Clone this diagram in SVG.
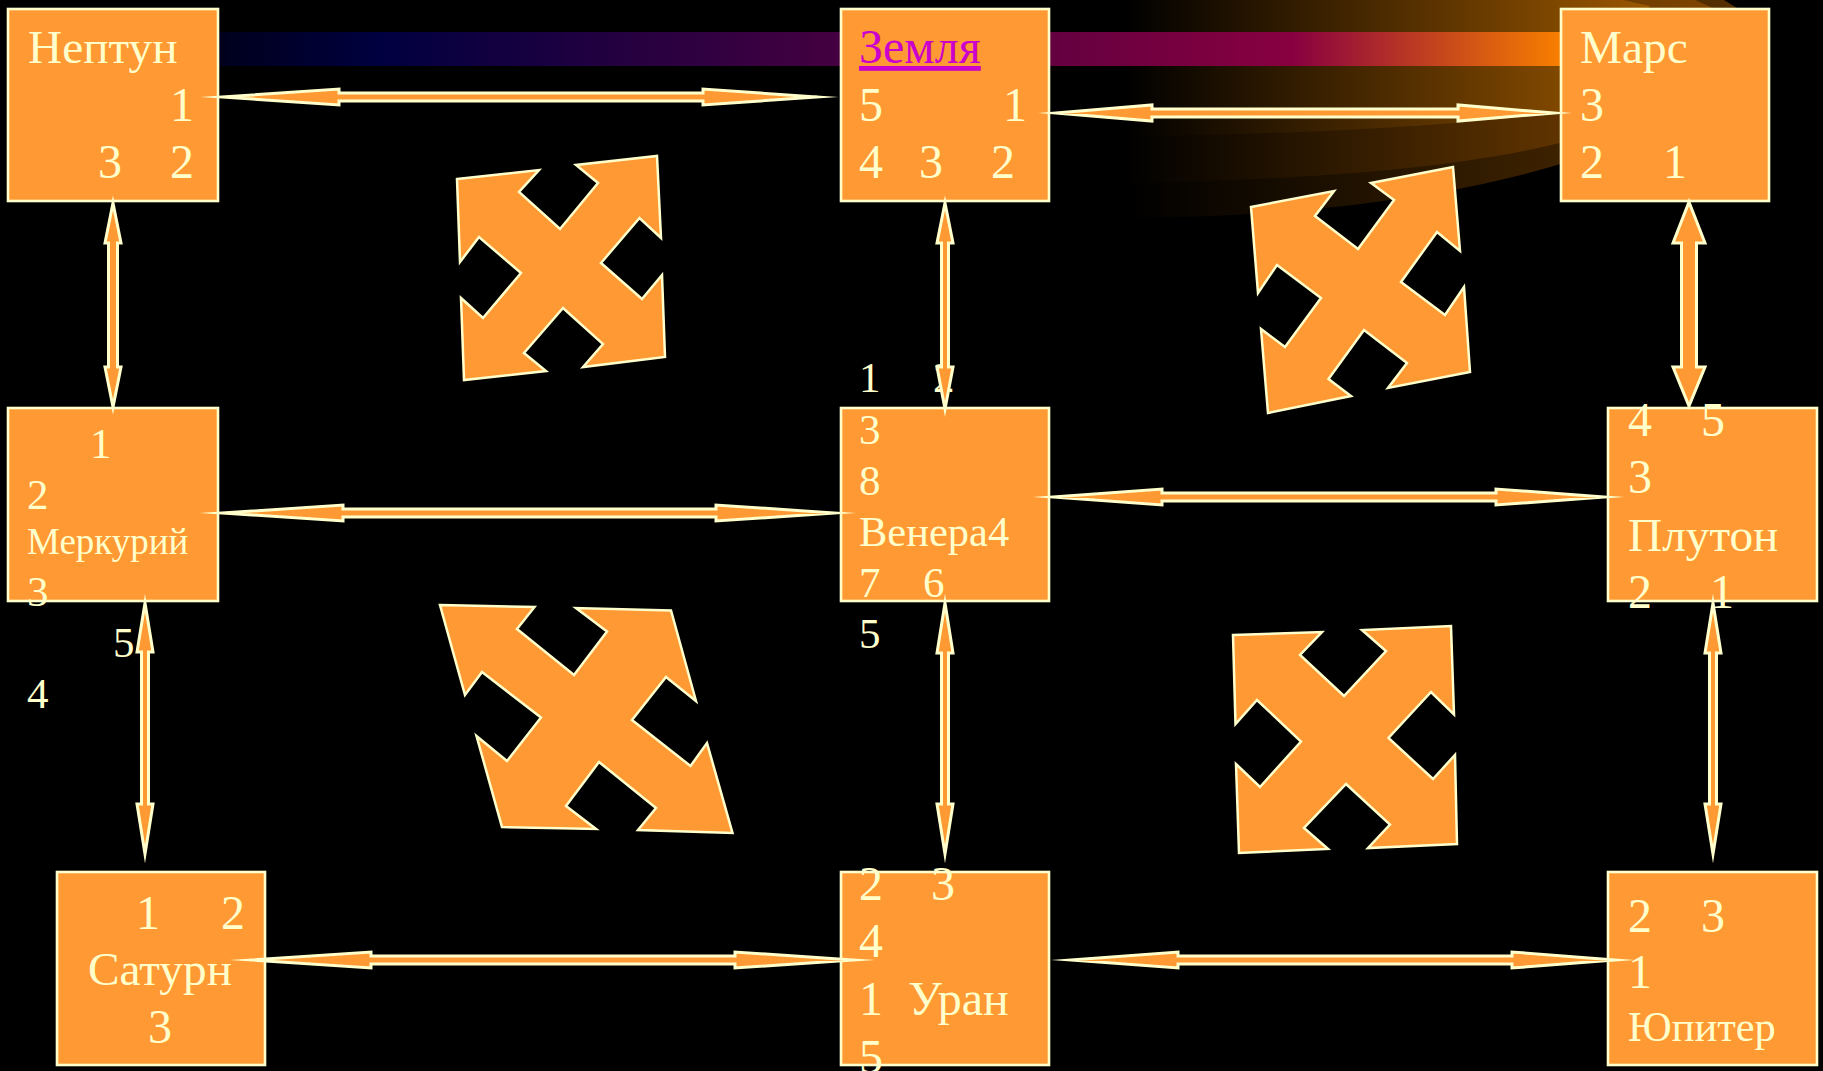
<svg xmlns="http://www.w3.org/2000/svg" width="1823" height="1071" viewBox="0 0 1823 1071">
<style>
.box{fill:#FF9933;stroke:#FFFFCC;stroke-width:2.6}
.arr{fill:#FF9933;stroke:#FFFFCC;stroke-width:3;stroke-miterlimit:40}
.cross{fill:#FF9933;stroke:#FFFFCC;stroke-width:2.5;stroke-miterlimit:10}
text{font-family:"Liberation Serif","Times New Roman",serif;fill:#FFFFCC;font-size:48px}
.n{font-size:47.3px}
.m{font-size:43px}
.mn{font-size:42.5px}
.s{font-size:37px}
.link{fill:#CC00CC;text-decoration:underline}
</style>
<defs>
<linearGradient id="band" gradientUnits="userSpaceOnUse" x1="218" y1="0" x2="1561" y2="0">
<stop offset="0" stop-color="#00001c"/><stop offset="0.12" stop-color="#000040"/><stop offset="0.80" stop-color="#880040"/><stop offset="1" stop-color="#F87F00"/>
</linearGradient>
<linearGradient id="f1" gradientUnits="userSpaceOnUse" x1="1125" y1="0" x2="1730" y2="0"><stop offset="0" stop-color="#000000"/><stop offset="1" stop-color="#B26400"/></linearGradient>
<linearGradient id="f2" gradientUnits="userSpaceOnUse" x1="1125" y1="0" x2="1730" y2="0"><stop offset="0" stop-color="#000000"/><stop offset="1" stop-color="#854800"/></linearGradient>
<linearGradient id="f3" gradientUnits="userSpaceOnUse" x1="1125" y1="0" x2="1730" y2="0"><stop offset="0" stop-color="#000000"/><stop offset="1" stop-color="#552F00"/></linearGradient>
</defs>
<rect width="1823" height="1071" fill="#000000"/>
<g id="background">
<path fill="url(#f3)" d="M1125,218 C1350,218 1560,180 1640,130 C1690,95 1725,40 1737,8 L1724,0 L1125,0 Z"/>
<path fill="url(#f2)" d="M1125,183 C1300,180 1450,170 1560,143 L1713,8 L1695,0 L1125,0 Z"/>
<path fill="url(#f1)" d="M1125,136 C1300,135 1460,125 1565,112 L1650,6 L1623,0 L1125,0 Z"/>
<rect x="218" y="32" width="1343" height="34" fill="url(#band)"/>
</g>
<g id="crosses">
<polygon id="cross-1" class="cross" points="457,179 539,170 519,192 560,229 598,183 576,165 657,156 661,238 639.5,218 601,263 642,299 662,275 665,357 583,367 603,344 563,308 524,353 546,371 464,380 461,298 483,318 521,273 479,237 460,262"/>
<polygon id="cross-2" class="cross" points="1251,207 1334,191 1315,216 1358,249 1394,200 1371,183 1453,167 1460,251 1437,232 1401,282 1445,315 1464,287 1470,372 1388,388 1407,363 1364,330 1328.5,379 1351,396 1268,413 1261,329 1285,347 1321,298 1277,265 1258,293"/>
<polygon id="cross-3" class="cross" points="440,605 534.5,607 517,629 574,675 607,631.5 576,608 671,610.5 696,701 666,677 632,720 690.5,766 707,743 732.5,833 638,830 656,808 599,762 566,806 596,829 502,827 476.5,736 507,761 541,717.5 482,672 465,695"/>
<polygon id="cross-4" class="cross" points="1233,635 1322,632 1300,655 1344,696 1386,651 1362,630 1451,626 1454,714.5 1431,692 1388.5,738 1433,779 1455,755 1457,844 1368,848 1390,824.5 1346,784 1304,828 1328,849 1239,853 1236,764 1260,787 1301,741.5 1257,700 1235.5,724"/>
</g>
<g id="neptune">
<rect class="box" x="8" y="9" width="210" height="192"/>
<text class="n" x="28" y="63">Нептун</text>
<text x="170" y="121">1</text>
<text x="98" y="178">3</text>
<text x="170" y="178">2</text>
</g>
<g id="earth">
<rect class="box" x="841" y="9" width="208" height="192"/>
<text class="link" x="859" y="63">Земля</text>
<text x="859" y="121">5</text>
<text x="1003" y="121">1</text>
<text x="859" y="178">4</text>
<text x="919" y="178">3</text>
<text x="991" y="178">2</text>
</g>
<g id="mars">
<rect class="box" x="1561" y="9" width="208" height="192"/>
<text class="n" x="1580" y="63">Марс</text>
<text x="1580" y="121">3</text>
<text x="1580" y="178">2</text>
<text x="1663" y="178">1</text>
</g>
<g id="mercury">
<rect class="box" x="8" y="408" width="210" height="193"/>
<text class="m" x="90" y="458">1</text>
<text class="m" x="27" y="509">2</text>
<text class="s" x="27" y="554">Меркурий</text>
<text class="m" x="27" y="606">3</text>
<text class="m" x="113" y="657">5</text>
<text class="m" x="27" y="708">4</text>
</g>
<g id="venus">
<rect class="box" x="841" y="408" width="208" height="193"/>
<text class="m" x="859" y="392">1</text>
<text class="m" x="933" y="392">2</text>
<text class="m" x="859" y="444">3</text>
<text class="m" x="859" y="495">8</text>
<text class="mn" x="859" y="546">Венера4</text>
<text class="m" x="859" y="597">7</text>
<text class="m" x="923" y="597">6</text>
<text class="m" x="859" y="648">5</text>
</g>
<g id="pluto">
<rect class="box" x="1608" y="408" width="209" height="193"/>
<text x="1628" y="436">4</text>
<text x="1701" y="436">5</text>
<text x="1628" y="493">3</text>
<text class="n" x="1628" y="551">Плутон</text>
<text x="1628" y="608">2</text>
<text x="1710" y="608">1</text>
</g>
<g id="saturn">
<rect class="box" x="57" y="872" width="208" height="193"/>
<text x="136" y="929">1</text>
<text x="221" y="929">2</text>
<text class="n" x="88" y="985">Сатурн</text>
<text x="148" y="1043">3</text>
</g>
<g id="uranus">
<rect class="box" x="841" y="872" width="208" height="193"/>
<text x="859" y="900">2</text>
<text x="931" y="900">3</text>
<text x="859" y="957">4</text>
<text x="859" y="1015">1</text>
<text x="908" y="1015">Уран</text>
<text x="859" y="1073">5</text>
</g>
<g id="jupiter">
<rect class="box" x="1608" y="872" width="209" height="193"/>
<text x="1628" y="932">2</text>
<text x="1701" y="932">3</text>
<text x="1628" y="988">1</text>
<text class="mn" x="1628" y="1041">Юпитер</text>
</g>
<g id="connectors">
<polygon class="arr" points="222,97 339,89 339,93 703,93 703,89 817,97 703,105 703,101 339,101 339,105"/>
<polygon class="arr" points="1056,113 1152,105 1152,109 1458,109 1458,105 1554,113 1458,121 1458,117 1152,117 1152,121"/>
<polygon class="arr" points="222,513 343,505 343,509 716,509 716,505 834,513 716,521 716,517 343,517 343,521"/>
<polygon class="arr" points="1053,497 1162,489 1162,493 1496,493 1496,489 1604,497 1496,505 1496,501 1162,501 1162,505"/>
<polygon class="arr" points="252,960 371,952 371,956 735,956 735,952 853,960 735,968 735,964 371,964 371,968"/>
<polygon class="arr" points="1071,960 1178,952 1178,956 1512,956 1512,952 1615,960 1512,968 1512,964 1178,964 1178,968"/>
<polygon class="arr" points="113,203 121,243 117.5,243 117.5,367 121,367 113,407 105,367 108.5,367 108.5,243 105,243"/>
<polygon class="arr" points="945,203 953,243 948.5,243 948.5,367 953,367 945,409 937,367 941.5,367 941.5,243 937,243"/>
<polygon class="arr" points="1689,202 1705,243 1696.5,243 1696.5,367 1705,367 1689,406 1673,367 1681.5,367 1681.5,243 1673,243"/>
<polygon class="arr" points="145,603 153,652 148.5,652 148.5,804 153,804 145,854 137,804 141.5,804 141.5,652 137,652"/>
<polygon class="arr" points="945,603 953,653 948.5,653 948.5,804 953,804 945,854 937,804 941.5,804 941.5,653 937,653"/>
<polygon class="arr" points="1713,603 1721,653 1716.5,653 1716.5,804 1721,804 1713,854 1705,804 1709.5,804 1709.5,653 1705,653"/>
</g>
</svg>
